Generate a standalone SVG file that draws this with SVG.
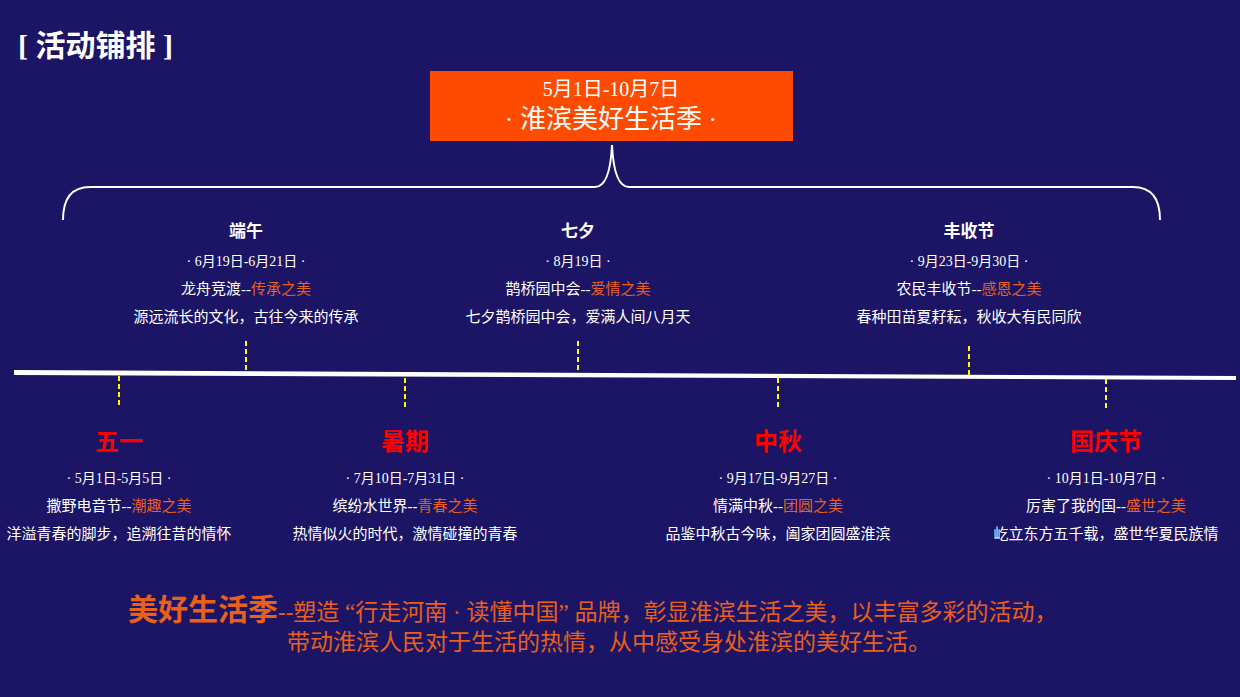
<svg xmlns="http://www.w3.org/2000/svg" width="1240" height="697" viewBox="0 0 1240 697">
<style>
text{font-family:"Liberation Serif","Noto Sans CJK SC",serif;text-anchor:middle;fill:#fff}
.h{font-size:17px;font-weight:bold}
.d{font-size:14px}
.l{font-size:15px}
.o{fill:#e8601c}
.r{font-size:24px;font-weight:bold;fill:#ff0000}
.t{stroke:#ffff00;stroke-width:2;stroke-dasharray:5,3}
</style>
<rect width="1240" height="697" fill="#1c1464"/>
<text x="18" y="56" style="text-anchor:start;font-size:30px;font-weight:bold" xml:space="preserve">[ 活动铺排 ]</text>
<g id="header">
<rect x="430" y="71" width="363" height="70" fill="#ff4b00"/>
<text x="611" y="96" style="font-size:20px">5月1日-10月7日</text>
<text x="611" y="128" style="font-size:26px">· 淮滨美好生活季 ·</text>
</g>
<g id="connectors">
<path d="M63,220 Q63,187 90,187 L595,187 Q610,187 612,145 Q614,187 629,187 L1133,187 Q1160,187 1160,220" fill="none" stroke="#fff" stroke-width="2"/>
<polygon points="14,370 1236,376 1236,380 14,375" fill="#fff"/>
<line class="t" x1="246" y1="341" x2="246" y2="372"/>
<line class="t" x1="578" y1="341" x2="578" y2="373"/>
<line class="t" x1="969" y1="346" x2="969" y2="376"/>
<line class="t" x1="119" y1="376" x2="119" y2="405"/>
<line class="t" x1="405" y1="378" x2="405" y2="410"/>
<line class="t" x1="778" y1="378" x2="778" y2="410"/>
<line class="t" x1="1106" y1="379" x2="1106" y2="410"/>
</g>
<g id="duanwu">
<text class="h" x="246" y="237">端午</text>
<text class="d" x="246" y="266">· 6月19日-6月21日 ·</text>
<text class="l" x="246" y="294">龙舟竞渡--<tspan class="o">传承之美</tspan></text>
<text class="l" x="246" y="322">源远流长的文化，古往今来的传承</text>
</g>
<g id="qixi">
<text class="h" x="578" y="237">七夕</text>
<text class="d" x="578" y="266">· 8月19日 ·</text>
<text class="l" x="578" y="294">鹊桥园中会--<tspan class="o">爱情之美</tspan></text>
<text class="l" x="578" y="322">七夕鹊桥园中会，爱满人间八月天</text>
</g>
<g id="fengshou">
<text class="h" x="969" y="237">丰收节</text>
<text class="d" x="969" y="266">· 9月23日-9月30日 ·</text>
<text class="l" x="969" y="294">农民丰收节--<tspan class="o">感恩之美</tspan></text>
<text class="l" x="969" y="322">春种田苗夏耔耘，秋收大有民同欣</text>
</g>
<g id="wuyi">
<text class="r" x="119" y="450">五一</text>
<text class="d" x="119" y="483">· 5月1日-5月5日 ·</text>
<text class="l" x="119" y="511">撒野电音节--<tspan class="o">潮趣之美</tspan></text>
<text class="l" x="119" y="539">洋溢青春的脚步，追溯往昔的情怀</text>
</g>
<g id="shuqi">
<text class="r" x="405" y="450">暑期</text>
<text class="d" x="405" y="483">· 7月10日-7月31日 ·</text>
<text class="l" x="405" y="511">缤纷水世界--<tspan class="o">青春之美</tspan></text>
<text class="l" x="405" y="539">热情似火的时代，激情碰撞的青春</text>
</g>
<g id="zhongqiu">
<text class="r" x="778" y="450">中秋</text>
<text class="d" x="778" y="483">· 9月17日-9月27日 ·</text>
<text class="l" x="778" y="511">情满中秋--<tspan class="o">团圆之美</tspan></text>
<text class="l" x="778" y="539">品鉴中秋古今味，阖家团圆盛淮滨</text>
</g>
<g id="guoqing">
<text class="r" x="1106" y="450">国庆节</text>
<text class="d" x="1106" y="483">· 10月1日-10月7日 ·</text>
<text class="l" x="1106" y="511">厉害了我的国--<tspan class="o">盛世之美</tspan></text>
<text class="l" x="1106" y="539">屹立东方五千载，盛世华夏民族情</text>
</g>
<g id="summary">
<text x="128" y="620" style="text-anchor:start;font-size:23px;fill:#e8601c" xml:space="preserve"><tspan style="font-size:30px;font-weight:bold">美好生活季</tspan>--塑造 “行走河南 · 读懂中国” 品牌，彰显淮滨生活之美，以丰富多彩的活动，</text>
<text x="287" y="650" style="text-anchor:start;font-size:23px;fill:#e8601c">带动淮滨人民对于生活的热情，从中感受身处淮滨的美好生活。</text>
</g>
</svg>
